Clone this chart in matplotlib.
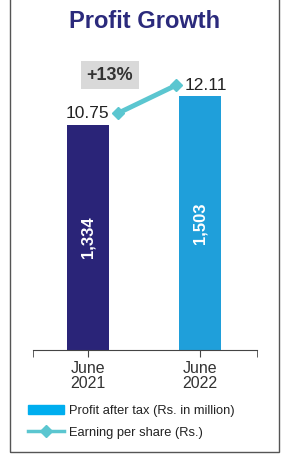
import numpy as np
from matplotlib import pyplot as plt
from matplotlib import patches as patches
from matplotlib.lines import Line2D

plt.rcParams['font.family'] = ['Liberation Sans', 'DejaVu Sans']

# data
years = ['June\n2021', 'June\n2022']
profit = [1334, 1503]
profit_labels = ['1,334', '1,503']
eps = [10.75, 12.11]
eps_labels = ['10.75', '12.11']
growth = '+13%'

bar_colors = ['#2a2478', '#1f9fda']
line_color = '#5bc6d0'
title_color = '#2b2a7c'

fig = plt.figure(figsize=(2.85, 4.57), dpi=100)
W, H = 285, 457

# outer frame (top edge falls outside the image)
fig.patches.append(patches.Rectangle((10/W, 1-452/H), 269/W, 452/H + 0.05,
                                     transform=fig.transFigure, fill=False,
                                     edgecolor='#555555', linewidth=1.0))

fig.text(145/W, 1-22/H, 'Profit Growth', ha='center', va='center',
         fontsize=17, fontweight='bold', color=title_color)

ax = fig.add_axes([33/W, 1-350/H, 224/W, 290/H])
x = np.arange(len(years))
ax.bar(x, profit, width=0.38, color=bar_colors)
for i in range(len(x)):
    ax.text(x[i], profit[i]/2, profit_labels[i], rotation=90, ha='center',
            va='center', color='white', fontsize=12, fontweight='bold')

ax.set_xlim(-0.49, 1.51)
ax.set_ylim(0, 1716)
ax.set_yticks([])
for s in ['top', 'right', 'left']:
    ax.spines[s].set_visible(False)
ax.spines['bottom'].set_color('#444444')
ax.set_xticks(x)
ax.set_xticklabels(years, fontsize=11.5, color='#333333', linespacing=1.0)
ax.set_xticks([-0.49, 1.51], minor=True)
ax.tick_params(axis='x', which='both', length=5, color='#444444', direction='out')
ax.tick_params(axis='x', which='major', pad=3)

# earning per share on its own scale
ax2 = ax.twinx()
ax2.set_ylim(-0.75, 13.33)
ax2.axis('off')
xl = x + np.array([0.27, -0.21])
ax2.plot(xl, eps, color=line_color, linewidth=3.5, marker='D',
         markersize=6, solid_capstyle='butt')
ax2.text(x[0], eps[0], eps_labels[0], ha='center', va='center', fontsize=12.5, color='#222222')
ax2.text(x[1] + 0.05, eps[1], eps_labels[1], ha='center', va='center', fontsize=12.5, color='#222222')

fig.text(110/W, 1-75/H, growth, ha='center', va='center', fontsize=13,
         fontweight='bold', color='#333333',
         bbox=dict(boxstyle='square,pad=0.3', facecolor='#d9d9d9', edgecolor='none'))

handles = [patches.Patch(color='#00aeef'),
           Line2D([], [], color=line_color, linewidth=2.5, marker='D', markersize=6)]
fig.legend(handles, ['Profit after tax (Rs. in million)', 'Earning per share (Rs.)'],
           loc='upper left', bbox_to_anchor=(28/W, 1-405/H), frameon=False,
           fontsize=9.3, handlelength=2.8, handletextpad=0.4, labelspacing=0.75,
           borderpad=0, borderaxespad=0, labelcolor='#222222')

fig.savefig('out.png', dpi=100)
